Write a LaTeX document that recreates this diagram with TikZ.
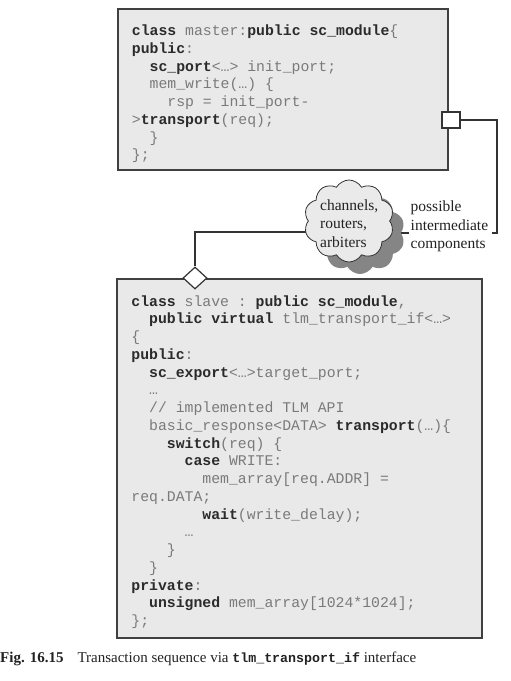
\documentclass[tikz,border=0pt]{standalone}
\usepackage{fontspec}
\setmainfont{Liberation Serif}
\setmonofont{Liberation Mono}
\usetikzlibrary{shapes.geometric,shapes.symbols,shadows,calc}
\definecolor{codegray}{HTML}{7A7A7A}
\definecolor{kwcol}{HTML}{2B2B2B}
\definecolor{boxfill}{HTML}{E9E9E9}
\definecolor{edgecol}{HTML}{404040}
\definecolor{linecol}{HTML}{333333}
\definecolor{cloudfill}{HTML}{EAEAEA}
\definecolor{shadowgray}{HTML}{858585}
\definecolor{captext}{HTML}{222222}
\newlength\cw
\setlength\cw{8.88pt}
\newcommand\indn[1]{\hspace*{#1\cw}}
\newcommand\kwd[1]{\textcolor{kwcol}{\bfseries #1}}
\newcommand\codefont{\ttfamily\fontsize{14.8}{17.75}\selectfont\color{codegray}}
\newcommand\fixsp{\spaceskip=\cw\relax\xspaceskip=\cw\relax}
\pgfdeclarelayer{background}
\pgfsetlayers{background,main}
\tikzset{
  codebox/.style={draw=edgecol, fill=boxfill, line width=1.6pt, inner sep=0pt},
  codetext/.style={anchor=base west, inner sep=0pt, align=left, font=\codefont},
  portbox/.style={draw=linecol, fill=white, line width=1.2pt, minimum width=18pt, minimum height=16pt, inner sep=0pt},
  dia/.style={diamond, draw=linecol, fill=white, line width=1.2pt, minimum width=24pt, minimum height=22pt, inner sep=0pt},
  conn/.style={draw=linecol, line width=1.2pt},
  cloudnode/.style={cloud, cloud puffs=10, cloud puff arc=120, cloud ignores aspect,
    minimum width=90pt, minimum height=82pt, inner sep=0pt, fill=cloudfill, draw=linecol, line width=0.8pt,
    drop shadow={shadow xshift=11pt, shadow yshift=-12pt, fill=shadowgray, opacity=1}},
  serifnote/.style={anchor=base west, inner sep=0pt, align=left, text=captext,
    font=\fontsize{15.5}{18.6}\selectfont}
}
\begin{document}
\begin{tikzpicture}[x=1pt,y=-1pt]
\useasboundingbox (0,0) rectangle (511,681);
% master
\node[codebox, minimum width=330pt, minimum height=161pt] (master) at (283,89.5) {};
\node[codetext, text width=320pt] (mtext) at (131.7,35.7) {\fixsp
\kwd{class} master:\kwd{public sc\_module}\{\\
\kwd{public}:\\
\indn{2}\kwd{sc\_port}<…> init\_port;\\
\indn{2}mem\_write(…) \{\\
\indn{4}rsp = init\_port-\\
>\kwd{transport}(req);\\
\indn{2}\}\\
\};};
\node[portbox] (port) at (451,120) {};
% slave
\node[codebox, minimum width=365pt, minimum height=359pt] (slave) at (299.5,458.5) {};
\node[codetext, text width=345pt] (stext) at (131.2,306) {\fixsp
\kwd{class} slave : \kwd{public sc\_module},\\
\indn{2}\kwd{public virtual} tlm\_transport\_if<…>\\
\{\\
\kwd{public}:\\
\indn{2}\kwd{sc\_export}<…>target\_port;\\
\indn{2}…\\
\indn{2}// implemented TLM API\\
\indn{2}basic\_response<DATA> \kwd{transport}(…)\{\\
\indn{4}\kwd{switch}(req) \{\\
\indn{6}\kwd{case} WRITE:\\
\indn{8}mem\_array[req.ADDR] =\\
req.DATA;\\
\indn{8}\kwd{wait}(write\_delay);\\
\indn{6}…\\
\indn{4}\}\\
\indn{2}\}\\
\kwd{private}:\\
\indn{2}\kwd{unsigned} mem\_array[1024*1024];\\
\};};
\node[dia] (dia) at (195,278) {};
% cloud
\node[cloudnode] (cloud) at (349,221) {};
\node[serifnote, text width=70pt] (ctext) at (320,210) {channels,\\routers,\\arbiters};
\node[serifnote, text width=80pt, fill=white, inner sep=1.5pt] (note) at (409,211.5) {possible\\intermediate\\components};
% connectors
\coordinate (rc) at (497,120);
\begin{pgfonlayer}{background}
\draw[conn] (port.east) -- (rc) |- ($(cloud.center)+(0,12)$);
\draw[conn] (dia.north) |- ($(cloud.center)+(0,11)$);
\end{pgfonlayer}
% caption
\node[anchor=base west, inner sep=0pt, text=captext, font=\fontsize{15}{18}\selectfont] (cap) at (0,662)
  {\textbf{Fig. 16.15}\hspace{14pt}Transaction sequence via {\fontsize{13.3}{16}\selectfont\ttfamily\bfseries tlm\_transport\_if} interface};
\end{tikzpicture}
\end{document}
